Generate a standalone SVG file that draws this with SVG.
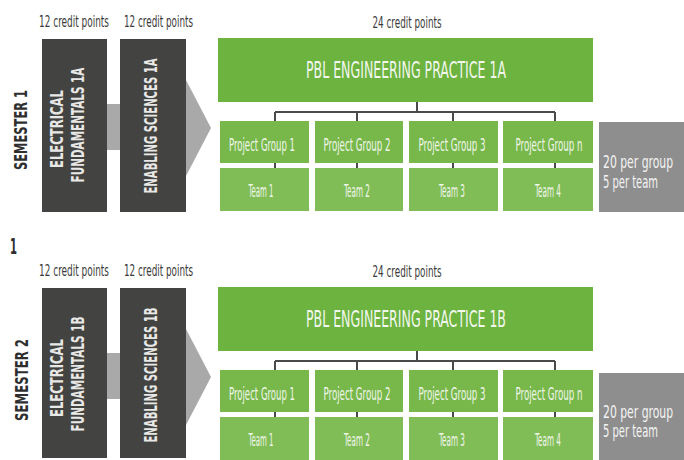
<svg xmlns="http://www.w3.org/2000/svg" width="684" height="460" viewBox="0 0 684 460">
<style>
text{font-family:"DejaVu Sans Condensed","DejaVu Sans","Liberation Sans",sans-serif}
.cp{font-size:15px;fill:#3a3a3a;text-anchor:middle}
.dark{fill:#434341}
.arrow{fill:#a9a9a9}
.vt{font-size:17px;fill:#e8e8e6;text-anchor:middle;font-weight:bold}
.sem{font-size:18px;fill:#2e2e2e;text-anchor:middle;font-weight:bold}
.big{fill:#6cb33f}
.title{font-size:23px;fill:#f2f7ee;text-anchor:middle}
.pg{fill:#78b84b}
.tm{fill:#80bd56}
.lbl{font-size:17px;fill:#f0f6ea;text-anchor:middle}
.gbox{fill:#8e8e8e}
.gt{font-size:17px;fill:#f4f4f4}
.ln{stroke:#4a4a4a;stroke-width:2;fill:none}
</style>
<rect width="684" height="460" fill="#ffffff"/>

<!-- SEMESTER 1 -->
<g id="semester1-label"><text class="sem" transform="translate(20.5,130) rotate(-90) scale(0.708,1)" y="6.5" textLength="113" lengthAdjust="spacingAndGlyphs">SEMESTER 1</text></g>
<g id="s1-arrow"><polygon class="arrow" points="100,104 186,104 186,80 211,128 186,176 186,150 100,150"/></g>
<g id="s1-ef">
<text class="cp" transform="translate(74,27) scale(0.66,1)" textLength="106" lengthAdjust="spacingAndGlyphs">12 credit points</text>
<rect class="dark" x="42" y="39" width="65" height="173"/>
<text class="vt" transform="translate(57,129) rotate(-90) scale(0.757,1)" y="6" textLength="103" lengthAdjust="spacingAndGlyphs">ELECTRICAL</text>
<text class="vt" transform="translate(78,125) rotate(-90) scale(0.676,1)" y="6" textLength="170" lengthAdjust="spacingAndGlyphs">FUNDAMENTALS 1A</text>
</g>
<g id="s1-es">
<text class="cp" transform="translate(158.5,27) scale(0.651,1)" textLength="106" lengthAdjust="spacingAndGlyphs">12 credit points</text>
<rect class="dark" x="120" y="39" width="66" height="173"/>
<text class="vt" transform="translate(151,126) rotate(-90) scale(0.659,1)" y="6" textLength="205" lengthAdjust="spacingAndGlyphs">ENABLING SCIENCES 1A</text>
</g>
<g id="s1-pbl">
<text class="cp" transform="translate(407,28) scale(0.651,1)" textLength="106" lengthAdjust="spacingAndGlyphs">24 credit points</text>
<rect class="big" x="218" y="38" width="375" height="64"/>
<text class="title" transform="translate(406,78) scale(0.604,1)" textLength="331" lengthAdjust="spacingAndGlyphs">PBL ENGINEERING PRACTICE 1A</text>
</g>
<g id="s1-connectors">
<path class="ln" d="M417,102V112M275,112H555M275,112V121M357,112V121M453,112V121M555,112V121M275,163V168M357,163V168M453,163V168M555,163V168"/>
</g>
<g id="s1-pg1"><rect class="pg" x="220" y="121" width="89" height="42"/><text class="lbl" transform="translate(262,151) scale(0.555,1)" textLength="119" lengthAdjust="spacingAndGlyphs">Project Group 1</text></g>
<g id="s1-pg2"><rect class="pg" x="315" y="121" width="88" height="42"/><text class="lbl" transform="translate(357,151) scale(0.563,1)" textLength="119" lengthAdjust="spacingAndGlyphs">Project Group 2</text></g>
<g id="s1-pg3"><rect class="pg" x="409" y="121" width="89" height="42"/><text class="lbl" transform="translate(452,151) scale(0.563,1)" textLength="119" lengthAdjust="spacingAndGlyphs">Project Group 3</text></g>
<g id="s1-pgn"><rect class="pg" x="503" y="121" width="90" height="42"/><text class="lbl" transform="translate(549,151) scale(0.563,1)" textLength="119" lengthAdjust="spacingAndGlyphs">Project Group n</text></g>
<g id="s1-t1"><rect class="tm" x="220" y="168" width="89" height="43"/><text class="lbl" transform="translate(261,197) scale(0.434,1)" textLength="57.6" lengthAdjust="spacingAndGlyphs">Team 1</text></g>
<g id="s1-t2"><rect class="tm" x="315" y="168" width="88" height="43"/><text class="lbl" transform="translate(357,197) scale(0.451,1)" textLength="57.6" lengthAdjust="spacingAndGlyphs">Team 2</text></g>
<g id="s1-t3"><rect class="tm" x="409" y="168" width="89" height="43"/><text class="lbl" transform="translate(452,197) scale(0.451,1)" textLength="57.6" lengthAdjust="spacingAndGlyphs">Team 3</text></g>
<g id="s1-t4"><rect class="tm" x="503" y="168" width="90" height="43"/><text class="lbl" transform="translate(548,197) scale(0.451,1)" textLength="57.6" lengthAdjust="spacingAndGlyphs">Team 4</text></g>
<g id="s1-size"><rect class="gbox" x="599" y="122" width="85" height="90"/>
<text class="gt" transform="translate(603,168) scale(0.709,1)" textLength="98.8" lengthAdjust="spacingAndGlyphs">20 per group</text>
<text class="gt" transform="translate(603,188) scale(0.65,1)" textLength="84.6" lengthAdjust="spacingAndGlyphs">5 per team</text></g>

<g id="stray-1"><text x="10" y="254" style="font-size:21px;fill:#2e2e2e;font-weight:bold" textLength="7" lengthAdjust="spacingAndGlyphs">1</text></g>

<!-- SEMESTER 2 -->
<g id="semester2-label"><text class="sem" transform="translate(21,380) rotate(-90) scale(0.726,1)" y="6.5" textLength="113" lengthAdjust="spacingAndGlyphs">SEMESTER 2</text></g>
<g id="s2-arrow"><polygon class="arrow" points="100,353 186,353 186,329 211,377 186,425 186,399 100,399"/></g>
<g id="s2-ef">
<text class="cp" transform="translate(74,276) scale(0.66,1)" textLength="106" lengthAdjust="spacingAndGlyphs">12 credit points</text>
<rect class="dark" x="42" y="288" width="65" height="170"/>
<text class="vt" transform="translate(57,378) rotate(-90) scale(0.757,1)" y="6" textLength="103" lengthAdjust="spacingAndGlyphs">ELECTRICAL</text>
<text class="vt" transform="translate(78,374) rotate(-90) scale(0.676,1)" y="6" textLength="170" lengthAdjust="spacingAndGlyphs">FUNDAMENTALS 1B</text>
</g>
<g id="s2-es">
<text class="cp" transform="translate(158.5,276) scale(0.651,1)" textLength="106" lengthAdjust="spacingAndGlyphs">12 credit points</text>
<rect class="dark" x="120" y="288" width="66" height="170"/>
<text class="vt" transform="translate(151,375) rotate(-90) scale(0.659,1)" y="6" textLength="205" lengthAdjust="spacingAndGlyphs">ENABLING SCIENCES 1B</text>
</g>
<g id="s2-pbl">
<text class="cp" transform="translate(407,277) scale(0.651,1)" textLength="106" lengthAdjust="spacingAndGlyphs">24 credit points</text>
<rect class="big" x="218" y="287" width="375" height="64"/>
<text class="title" transform="translate(406,327) scale(0.604,1)" textLength="331" lengthAdjust="spacingAndGlyphs">PBL ENGINEERING PRACTICE 1B</text>
</g>
<g id="s2-connectors">
<path class="ln" d="M417,351V361M275,361H555M275,361V370M357,361V370M453,361V370M555,361V370M275,412V417M357,412V417M453,412V417M555,412V417"/>
</g>
<g id="s2-pg1"><rect class="pg" x="220" y="370" width="89" height="42"/><text class="lbl" transform="translate(262,400) scale(0.555,1)" textLength="119" lengthAdjust="spacingAndGlyphs">Project Group 1</text></g>
<g id="s2-pg2"><rect class="pg" x="315" y="370" width="88" height="42"/><text class="lbl" transform="translate(357,400) scale(0.563,1)" textLength="119" lengthAdjust="spacingAndGlyphs">Project Group 2</text></g>
<g id="s2-pg3"><rect class="pg" x="409" y="370" width="89" height="42"/><text class="lbl" transform="translate(452,400) scale(0.563,1)" textLength="119" lengthAdjust="spacingAndGlyphs">Project Group 3</text></g>
<g id="s2-pgn"><rect class="pg" x="503" y="370" width="90" height="42"/><text class="lbl" transform="translate(549,400) scale(0.563,1)" textLength="119" lengthAdjust="spacingAndGlyphs">Project Group n</text></g>
<g id="s2-t1"><rect class="tm" x="220" y="417" width="89" height="43"/><text class="lbl" transform="translate(261,446) scale(0.434,1)" textLength="57.6" lengthAdjust="spacingAndGlyphs">Team 1</text></g>
<g id="s2-t2"><rect class="tm" x="315" y="417" width="88" height="43"/><text class="lbl" transform="translate(357,446) scale(0.451,1)" textLength="57.6" lengthAdjust="spacingAndGlyphs">Team 2</text></g>
<g id="s2-t3"><rect class="tm" x="409" y="417" width="89" height="43"/><text class="lbl" transform="translate(452,446) scale(0.451,1)" textLength="57.6" lengthAdjust="spacingAndGlyphs">Team 3</text></g>
<g id="s2-t4"><rect class="tm" x="503" y="417" width="90" height="43"/><text class="lbl" transform="translate(548,446) scale(0.451,1)" textLength="57.6" lengthAdjust="spacingAndGlyphs">Team 4</text></g>
<g id="s2-size"><rect class="gbox" x="599" y="373" width="85" height="87"/>
<text class="gt" transform="translate(603,418) scale(0.709,1)" textLength="98.8" lengthAdjust="spacingAndGlyphs">20 per group</text>
<text class="gt" transform="translate(603,437) scale(0.65,1)" textLength="84.6" lengthAdjust="spacingAndGlyphs">5 per team</text></g>
</svg>
